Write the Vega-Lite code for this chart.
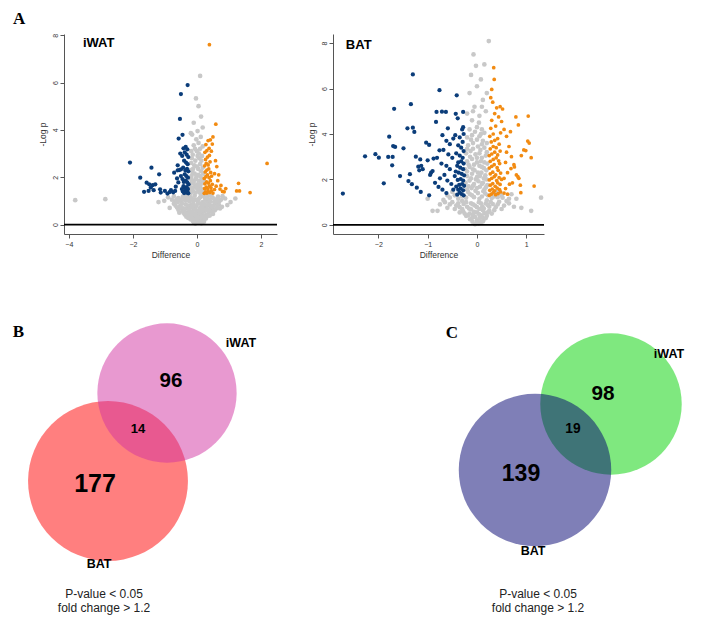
{
"$schema":"https://vega.github.io/schema/vega-lite/v6.json",
"background":"white",
"padding":{"left":12,"top":10,"right":5,"bottom":5},
"bounds":"flush",
"align":"each",
"columns":2,
"spacing":{"row":67,"column":56},
"resolve":{"scale":{"color":"independent","size":"independent"}},
"config":{
 "view":{"stroke":null},
 "axis":{"grid":false,"domainColor":"#555","domainWidth":1,"tickColor":"#555","tickSize":4,"labelColor":"#333","titleColor":"#333","labelFont":"Liberation Sans","titleFont":"Liberation Sans","labelFontSize":7,"titleFontSize":8.5,"titleFontWeight":"normal","labelPadding":2},
 "axisY":{"labelAngle":-90,"titlePadding":4},
 "axisX":{"titlePadding":3}
},
"datasets":{
"iwat":[
{"x":-0.05,"y":0.04,"g":"ns"},{"x":0.03,"y":0.08,"g":"ns"},{"x":0.1,"y":0.12,"g":"ns"},{"x":-0.12,"y":0.15,"g":"ns"},{"x":0.18,"y":0.2,"g":"ns"},{"x":-0.2,"y":0.22,"g":"ns"},{"x":0,"y":0.18,"g":"ns"},{"x":0.07,"y":0.28,"g":"ns"},{"x":-0.08,"y":0.3,"g":"ns"},{"x":0.25,"y":0.3,"g":"ns"},{"x":-0.27,"y":0.28,"g":"ns"},{"x":0.14,"y":0.05,"g":"ns"},
{"x":-0.38,"y":0.42,"g":"ns"},{"x":-0.3,"y":0.5,"g":"ns"},{"x":-0.22,"y":0.38,"g":"ns"},{"x":-0.15,"y":0.52,"g":"ns"},{"x":-0.06,"y":0.45,"g":"ns"},{"x":0.02,"y":0.55,"g":"ns"},{"x":0.09,"y":0.4,"g":"ns"},{"x":0.16,"y":0.48,"g":"ns"},{"x":0.23,"y":0.55,"g":"ns"},{"x":0.3,"y":0.42,"g":"ns"},{"x":0.37,"y":0.5,"g":"ns"},{"x":0.44,"y":0.58,"g":"ns"},{"x":-0.45,"y":0.58,"g":"ns"},{"x":0,"y":0.35,"g":"ns"},{"x":0.12,"y":0.6,"g":"ns"},{"x":-0.1,"y":0.62,"g":"ns"},{"x":0.5,"y":0.45,"g":"ns"},{"x":-0.55,"y":0.5,"g":"ns"},
{"x":-0.62,"y":0.72,"g":"ns"},{"x":-0.52,"y":0.8,"g":"ns"},{"x":-0.43,"y":0.68,"g":"ns"},{"x":-0.35,"y":0.85,"g":"ns"},{"x":-0.26,"y":0.7,"g":"ns"},{"x":-0.18,"y":0.82,"g":"ns"},{"x":-0.08,"y":0.75,"g":"ns"},{"x":0.02,"y":0.88,"g":"ns"},{"x":0.1,"y":0.7,"g":"ns"},{"x":0.19,"y":0.83,"g":"ns"},{"x":0.27,"y":0.72,"g":"ns"},{"x":0.35,"y":0.86,"g":"ns"},{"x":0.43,"y":0.7,"g":"ns"},{"x":0.52,"y":0.8,"g":"ns"},{"x":0.6,"y":0.68,"g":"ns"},{"x":0.68,"y":0.85,"g":"ns"},{"x":-0.72,"y":0.88,"g":"ns"},{"x":0.78,"y":0.75,"g":"ns"},{"x":-0.85,"y":0.7,"g":"ns"},{"x":0.95,"y":0.82,"g":"ns"},{"x":-0.05,"y":0.65,"g":"ns"},{"x":0.3,"y":0.62,"g":"ns"},
{"x":-0.78,"y":1.05,"g":"ns"},{"x":-0.68,"y":0.98,"g":"ns"},{"x":-0.58,"y":1.12,"g":"ns"},{"x":-0.48,"y":0.95,"g":"ns"},{"x":-0.4,"y":1.08,"g":"ns"},{"x":-0.32,"y":1.2,"g":"ns"},{"x":-0.24,"y":0.98,"g":"ns"},{"x":-0.16,"y":1.1,"g":"ns"},{"x":-0.07,"y":1.22,"g":"ns"},{"x":0.02,"y":1,"g":"ns"},{"x":0.1,"y":1.15,"g":"ns"},{"x":0.18,"y":0.95,"g":"ns"},{"x":0.26,"y":1.08,"g":"ns"},{"x":0.34,"y":1.2,"g":"ns"},{"x":0.42,"y":0.98,"g":"ns"},{"x":0.5,"y":1.12,"g":"ns"},{"x":0.58,"y":1,"g":"ns"},{"x":0.66,"y":1.18,"g":"ns"},{"x":0.75,"y":1.05,"g":"ns"},{"x":-0.9,"y":1.15,"g":"ns"},{"x":-1.02,"y":1,"g":"ns"},{"x":0.88,"y":1.1,"g":"ns"},{"x":1.05,"y":0.95,"g":"ns"},{"x":-3.8,"y":1.03,"g":"ns"},{"x":-2.86,"y":1.07,"g":"ns"},{"x":-1.2,"y":0.95,"g":"ns"},{"x":1.2,"y":1.1,"g":"ns"},
{"x":-0.2,"y":1.3,"g":"ns"},{"x":-0.12,"y":1.4,"g":"ns"},{"x":-0.04,"y":1.35,"g":"ns"},{"x":0.05,"y":1.45,"g":"ns"},{"x":0.13,"y":1.32,"g":"ns"},{"x":0.2,"y":1.5,"g":"ns"},{"x":-0.18,"y":1.55,"g":"ns"},{"x":-0.08,"y":1.62,"g":"ns"},{"x":0.02,"y":1.7,"g":"ns"},{"x":0.1,"y":1.6,"g":"ns"},{"x":0.17,"y":1.75,"g":"ns"},{"x":-0.15,"y":1.8,"g":"ns"},{"x":-0.05,"y":1.9,"g":"ns"},{"x":0.06,"y":1.85,"g":"ns"},{"x":0.15,"y":1.95,"g":"ns"},{"x":-0.22,"y":1.7,"g":"ns"},{"x":0.22,"y":1.3,"g":"ns"},{"x":-0.24,"y":1.45,"g":"ns"},
{"x":-0.17,"y":2.05,"g":"ns"},{"x":-0.07,"y":2.15,"g":"ns"},{"x":0.04,"y":2.1,"g":"ns"},{"x":0.13,"y":2.25,"g":"ns"},{"x":-0.12,"y":2.35,"g":"ns"},{"x":0,"y":2.45,"g":"ns"},{"x":0.1,"y":2.55,"g":"ns"},{"x":-0.18,"y":2.6,"g":"ns"},{"x":-0.05,"y":2.7,"g":"ns"},{"x":0.07,"y":2.8,"g":"ns"},{"x":0.16,"y":2.9,"g":"ns"},{"x":-0.13,"y":2.95,"g":"ns"},{"x":0,"y":3.1,"g":"ns"},{"x":0.1,"y":3.2,"g":"ns"},{"x":-0.1,"y":3.35,"g":"ns"},{"x":0.05,"y":3.45,"g":"ns"},{"x":-0.02,"y":3.6,"g":"ns"},{"x":0.12,"y":3.7,"g":"ns"},{"x":-0.15,"y":3.8,"g":"ns"},{"x":-0.19,"y":3.86,"g":"ns"},{"x":0.02,"y":3.95,"g":"ns"},
{"x":-0.1,"y":4.3,"g":"ns"},{"x":0.18,"y":4.1,"g":"ns"},{"x":0.13,"y":4.56,"g":"ns"},{"x":0.05,"y":5,"g":"ns"},{"x":-0.03,"y":5.33,"g":"ns"},{"x":0.1,"y":6.28,"g":"ns"},
{"x":-0.33,"y":0.33,"g":"ns"},{"x":0.33,"y":0.36,"g":"ns"},{"x":-0.5,"y":0.7,"g":"ns"},{"x":0.48,"y":0.65,"g":"ns"},{"x":-0.2,"y":0.55,"g":"ns"},{"x":0.2,"y":0.68,"g":"ns"},{"x":-0.6,"y":0.95,"g":"ns"},{"x":0.6,"y":0.9,"g":"ns"},{"x":-0.12,"y":0.88,"g":"ns"},{"x":0.08,"y":0.9,"g":"ns"},{"x":-0.28,"y":1.1,"g":"ns"},{"x":0.3,"y":1,"g":"ns"},{"x":-0.02,"y":0.48,"g":"ns"},{"x":0.05,"y":0.22,"g":"ns"},{"x":-0.16,"y":0.3,"g":"ns"},{"x":0.22,"y":0.12,"g":"ns"},
{"x":-0.1,"y":0.1,"g":"ns"},{"x":0.05,"y":0.15,"g":"ns"},{"x":-0.18,"y":0.35,"g":"ns"},{"x":0.12,"y":0.3,"g":"ns"},{"x":0.2,"y":0.38,"g":"ns"},{"x":-0.25,"y":0.45,"g":"ns"},{"x":0.28,"y":0.25,"g":"ns"},{"x":-0.02,"y":0.25,"g":"ns"},{"x":0.08,"y":0.5,"g":"ns"},{"x":-0.12,"y":0.42,"g":"ns"},{"x":0.17,"y":0.33,"g":"ns"},{"x":-0.3,"y":0.36,"g":"ns"},{"x":0.4,"y":0.38,"g":"ns"},{"x":-0.42,"y":0.5,"g":"ns"},
{"x":-0.4,"y":0.6,"g":"ns"},{"x":-0.32,"y":0.68,"g":"ns"},{"x":-0.24,"y":0.62,"g":"ns"},{"x":-0.16,"y":0.72,"g":"ns"},{"x":-0.02,"y":0.78,"g":"ns"},{"x":0.06,"y":0.6,"g":"ns"},{"x":0.14,"y":0.77,"g":"ns"},{"x":0.24,"y":0.64,"g":"ns"},{"x":0.32,"y":0.78,"g":"ns"},{"x":0.4,"y":0.62,"g":"ns"},{"x":0.47,"y":0.75,"g":"ns"},{"x":0.56,"y":0.6,"g":"ns"},{"x":-0.58,"y":0.62,"g":"ns"},{"x":-0.47,"y":0.88,"g":"ns"},{"x":-0.28,"y":0.8,"g":"ns"},{"x":0.22,"y":0.88,"g":"ns"},{"x":0.4,"y":0.85,"g":"ns"},{"x":-0.67,"y":0.8,"g":"ns"},{"x":0.64,"y":0.78,"g":"ns"},{"x":0.72,"y":0.68,"g":"ns"},
{"x":-0.52,"y":1.05,"g":"ns"},{"x":-0.44,"y":1.18,"g":"ns"},{"x":-0.36,"y":1.02,"g":"ns"},{"x":-0.2,"y":1.15,"g":"ns"},{"x":-0.12,"y":1.02,"g":"ns"},{"x":0.06,"y":1.08,"g":"ns"},{"x":0.14,"y":1.22,"g":"ns"},{"x":0.22,"y":1.18,"g":"ns"},{"x":0.3,"y":1.12,"g":"ns"},{"x":0.38,"y":1.05,"g":"ns"},{"x":0.46,"y":1.2,"g":"ns"},{"x":0.54,"y":0.95,"g":"ns"},{"x":0.62,"y":1.08,"g":"ns"},{"x":-0.64,"y":1.05,"g":"ns"},{"x":0.7,"y":0.98,"g":"ns"},{"x":-0.72,"y":1.2,"g":"ns"},{"x":0.8,"y":1.2,"g":"ns"},{"x":-0.04,"y":1.05,"g":"ns"},{"x":-0.28,"y":1.25,"g":"ns"},{"x":0.25,"y":1.25,"g":"ns"},
{"x":-0.14,"y":1.5,"g":"ns"},{"x":-0.02,"y":1.55,"g":"ns"},{"x":0.08,"y":1.35,"g":"ns"},{"x":0.16,"y":1.45,"g":"ns"},{"x":-0.1,"y":1.75,"g":"ns"},{"x":0,"y":1.6,"g":"ns"},{"x":0.12,"y":1.72,"g":"ns"},{"x":-0.18,"y":1.92,"g":"ns"},{"x":0.2,"y":1.85,"g":"ns"},{"x":-0.02,"y":2,"g":"ns"},{"x":0.1,"y":2.05,"g":"ns"},{"x":-0.14,"y":2.2,"g":"ns"},{"x":0.18,"y":2.4,"g":"ns"},{"x":-0.08,"y":2.5,"g":"ns"},{"x":0.04,"y":2.35,"g":"ns"},{"x":0.14,"y":2.7,"g":"ns"},{"x":-0.16,"y":2.8,"g":"ns"},{"x":0.02,"y":2.9,"g":"ns"},{"x":-0.06,"y":3.2,"g":"ns"},{"x":0.18,"y":3.3,"g":"ns"},{"x":0.06,"y":3,"g":"ns"},{"x":-0.18,"y":3.1,"g":"ns"},{"x":0.2,"y":2.15,"g":"ns"},{"x":-0.21,"y":2.3,"g":"ns"},
{"x":-0.27,"y":1.32,"g":"dn"},{"x":-0.3,"y":1.38,"g":"dn"},{"x":-0.33,"y":1.35,"g":"dn"},{"x":-0.36,"y":1.42,"g":"dn"},{"x":-0.4,"y":1.33,"g":"dn"},{"x":-0.44,"y":1.4,"g":"dn"},{"x":-0.28,"y":1.5,"g":"dn"},{"x":-0.32,"y":1.58,"g":"dn"},{"x":-0.38,"y":1.55,"g":"dn"},{"x":-0.42,"y":1.62,"g":"dn"},{"x":-0.47,"y":1.5,"g":"dn"},{"x":-0.26,"y":1.7,"g":"dn"},{"x":-0.3,"y":1.78,"g":"dn"},{"x":-0.35,"y":1.85,"g":"dn"},{"x":-0.41,"y":1.8,"g":"dn"},{"x":-0.45,"y":1.92,"g":"dn"},{"x":-0.28,"y":1.98,"g":"dn"},{"x":-0.33,"y":2.05,"g":"dn"},{"x":-0.38,"y":2.12,"g":"dn"},{"x":-0.5,"y":2.05,"g":"dn"},{"x":-0.27,"y":2.25,"g":"dn"},{"x":-0.31,"y":2.35,"g":"dn"},{"x":-0.36,"y":2.28,"g":"dn"},{"x":-0.43,"y":2.4,"g":"dn"},{"x":-0.55,"y":2.3,"g":"dn"},{"x":-0.29,"y":2.55,"g":"dn"},{"x":-0.34,"y":2.62,"g":"dn"},{"x":-0.4,"y":2.7,"g":"dn"},{"x":-0.6,"y":2.5,"g":"dn"},{"x":-0.27,"y":2.85,"g":"dn"},{"x":-0.32,"y":2.95,"g":"dn"},{"x":-0.38,"y":3.05,"g":"dn"},{"x":-0.46,"y":2.9,"g":"dn"},{"x":-0.3,"y":3.18,"g":"dn"},{"x":-0.35,"y":3.28,"g":"dn"},{"x":-0.42,"y":3.22,"g":"dn"},{"x":-0.52,"y":3,"g":"dn"},{"x":-0.71,"y":2.19,"g":"dn"},{"x":-0.6,"y":2.29,"g":"dn"},{"x":-0.5,"y":2.33,"g":"dn"},
{"x":-0.57,"y":3.63,"g":"dn"},{"x":-0.45,"y":3.79,"g":"dn"},{"x":-0.53,"y":4.46,"g":"dn"},{"x":-0.5,"y":5.51,"g":"dn"},{"x":-0.29,"y":5.89,"g":"dn"},{"x":-2.09,"y":2.62,"g":"dn"},{"x":-1.42,"y":2.4,"g":"dn"},{"x":-1.18,"y":2.12,"g":"dn"},{"x":-1.77,"y":1.98,"g":"dn"},{"x":-1.57,"y":1.77,"g":"dn"},{"x":-1.49,"y":1.7,"g":"dn"},{"x":-1.38,"y":1.66,"g":"dn"},{"x":-1.3,"y":1.7,"g":"dn"},{"x":-1.44,"y":1.56,"g":"dn"},{"x":-1.65,"y":1.38,"g":"dn"},{"x":-1.51,"y":1.42,"g":"dn"},{"x":-1.35,"y":1.45,"g":"dn"},{"x":-1.15,"y":1.49,"g":"dn"},{"x":-1.13,"y":1.35,"g":"dn"},{"x":-1,"y":1.42,"g":"dn"},{"x":-0.92,"y":1.31,"g":"dn"},{"x":-0.85,"y":1.37,"g":"dn"},{"x":-0.81,"y":1.45,"g":"dn"},{"x":-0.74,"y":1.36,"g":"dn"},{"x":-0.68,"y":1.42,"g":"dn"},{"x":-0.62,"y":1.95,"g":"dn"},{"x":-0.58,"y":1.78,"g":"dn"},{"x":-0.66,"y":1.6,"g":"dn"},
{"x":0.23,"y":1.32,"g":"up"},{"x":0.27,"y":1.38,"g":"up"},{"x":0.31,"y":1.33,"g":"up"},{"x":0.35,"y":1.4,"g":"up"},{"x":0.4,"y":1.35,"g":"up"},{"x":0.45,"y":1.42,"g":"up"},{"x":0.5,"y":1.33,"g":"up"},{"x":0.24,"y":1.52,"g":"up"},{"x":0.29,"y":1.58,"g":"up"},{"x":0.34,"y":1.5,"g":"up"},{"x":0.39,"y":1.62,"g":"up"},{"x":0.44,"y":1.55,"g":"up"},{"x":0.55,"y":1.48,"g":"up"},{"x":0.25,"y":1.72,"g":"up"},{"x":0.3,"y":1.8,"g":"up"},{"x":0.36,"y":1.75,"g":"up"},{"x":0.42,"y":1.85,"g":"up"},{"x":0.48,"y":1.7,"g":"up"},{"x":0.6,"y":1.62,"g":"up"},{"x":0.23,"y":1.95,"g":"up"},{"x":0.28,"y":2.02,"g":"up"},{"x":0.33,"y":2.1,"g":"up"},{"x":0.38,"y":1.98,"g":"up"},{"x":0.46,"y":2.05,"g":"up"},{"x":0.26,"y":2.22,"g":"up"},{"x":0.31,"y":2.3,"g":"up"},{"x":0.37,"y":2.35,"g":"up"},{"x":0.43,"y":2.2,"g":"up"},{"x":0.55,"y":2.15,"g":"up"},{"x":0.24,"y":2.48,"g":"up"},{"x":0.29,"y":2.58,"g":"up"},{"x":0.35,"y":2.52,"g":"up"},{"x":0.41,"y":2.65,"g":"up"},{"x":0.27,"y":2.75,"g":"up"},{"x":0.33,"y":2.85,"g":"up"},{"x":0.39,"y":2.92,"g":"up"},{"x":0.25,"y":3.05,"g":"up"},{"x":0.31,"y":3.12,"g":"up"},{"x":0.38,"y":3.22,"g":"up"},{"x":0.45,"y":3.1,"g":"up"},{"x":0.28,"y":3.38,"g":"up"},{"x":0.35,"y":3.55,"g":"up"},{"x":0.42,"y":3.58,"g":"up"},{"x":0.48,"y":3.4,"g":"up"},
{"x":0.65,"y":1.85,"g":"up"},{"x":0.72,"y":1.5,"g":"up"},{"x":0.8,"y":1.4,"g":"up"},{"x":0.68,"y":2.1,"g":"up"},{"x":0.62,"y":2.45,"g":"up"},{"x":0.75,"y":1.65,"g":"up"},{"x":0.85,"y":1.38,"g":"up"},{"x":0.9,"y":1.52,"g":"up"},{"x":0.58,"y":2.7,"g":"up"},{"x":1.3,"y":1.74,"g":"up"},{"x":1.24,"y":1.42,"g":"up"},{"x":1.33,"y":1.42,"g":"up"},{"x":1.66,"y":1.35,"g":"up"},{"x":2.19,"y":2.58,"g":"up"},{"x":0.59,"y":4.24,"g":"up"},{"x":0.39,"y":7.6,"g":"up"},{"x":0.5,"y":3.7,"g":"up"}
],
"bat":[
{"x":-0.04,"y":0.03,"g":"ns"},{"x":0.03,"y":0.06,"g":"ns"},{"x":0.08,"y":0.12,"g":"ns"},{"x":-0.09,"y":0.14,"g":"ns"},{"x":0,"y":0.2,"g":"ns"},{"x":0.13,"y":0.22,"g":"ns"},{"x":-0.14,"y":0.25,"g":"ns"},{"x":0.05,"y":0.3,"g":"ns"},{"x":-0.04,"y":0.35,"g":"ns"},
{"x":-0.22,"y":0.4,"g":"ns"},{"x":-0.15,"y":0.5,"g":"ns"},{"x":-0.08,"y":0.45,"g":"ns"},{"x":0,"y":0.55,"g":"ns"},{"x":0.08,"y":0.42,"g":"ns"},{"x":0.15,"y":0.52,"g":"ns"},{"x":0.2,"y":0.4,"g":"ns"},{"x":-0.28,"y":0.6,"g":"ns"},{"x":0.25,"y":0.62,"g":"ns"},{"x":-0.12,"y":0.68,"g":"ns"},{"x":0.05,"y":0.7,"g":"ns"},{"x":-0.35,"y":0.55,"g":"ns"},{"x":0.3,"y":0.5,"g":"ns"},{"x":0.12,"y":0.65,"g":"ns"},
{"x":-0.42,"y":0.85,"g":"ns"},{"x":-0.35,"y":0.78,"g":"ns"},{"x":-0.27,"y":0.92,"g":"ns"},{"x":-0.2,"y":0.8,"g":"ns"},{"x":-0.12,"y":0.95,"g":"ns"},{"x":-0.04,"y":0.85,"g":"ns"},{"x":0.04,"y":1,"g":"ns"},{"x":0.11,"y":0.82,"g":"ns"},{"x":0.18,"y":0.95,"g":"ns"},{"x":0.25,"y":0.8,"g":"ns"},{"x":0.32,"y":0.92,"g":"ns"},{"x":0.38,"y":0.78,"g":"ns"},{"x":-0.5,"y":1,"g":"ns"},{"x":0.45,"y":1.02,"g":"ns"},{"x":-0.6,"y":0.75,"g":"ns"},{"x":0.55,"y":0.85,"g":"ns"},{"x":-0.75,"y":0.9,"g":"ns"},{"x":0.65,"y":0.95,"g":"ns"},{"x":-0.9,"y":0.62,"g":"ns"},{"x":1.1,"y":0.62,"g":"ns"},{"x":-0.8,"y":0.62,"g":"ns"},{"x":0.9,"y":0.75,"g":"ns"},{"x":-0.3,"y":1.05,"g":"ns"},{"x":0.2,"y":1.08,"g":"ns"},
{"x":-0.55,"y":1.2,"g":"ns"},{"x":-0.45,"y":1.3,"g":"ns"},{"x":-0.38,"y":1.15,"g":"ns"},{"x":-0.22,"y":1.2,"g":"ns"},{"x":-0.14,"y":1.35,"g":"ns"},{"x":-0.06,"y":1.22,"g":"ns"},{"x":0.02,"y":1.4,"g":"ns"},{"x":0.1,"y":1.25,"g":"ns"},{"x":0.17,"y":1.38,"g":"ns"},{"x":0.3,"y":1.18,"g":"ns"},{"x":0.42,"y":1.22,"g":"ns"},{"x":0.52,"y":1.2,"g":"ns"},{"x":0.65,"y":1.15,"g":"ns"},{"x":1.3,"y":1.2,"g":"ns"},{"x":-0.68,"y":1.1,"g":"ns"},{"x":-1,"y":1.15,"g":"ns"},{"x":0.8,"y":1.15,"g":"ns"},
{"x":-0.2,"y":1.55,"g":"ns"},{"x":-0.11,"y":1.62,"g":"ns"},{"x":-0.03,"y":1.5,"g":"ns"},{"x":0.06,"y":1.68,"g":"ns"},{"x":0.15,"y":1.55,"g":"ns"},{"x":0.21,"y":1.75,"g":"ns"},{"x":-0.23,"y":1.85,"g":"ns"},{"x":-0.15,"y":1.95,"g":"ns"},{"x":-0.06,"y":1.8,"g":"ns"},{"x":0.03,"y":1.92,"g":"ns"},{"x":0.12,"y":1.85,"g":"ns"},{"x":0.19,"y":2,"g":"ns"},{"x":-0.2,"y":2.15,"g":"ns"},{"x":-0.1,"y":2.25,"g":"ns"},{"x":0,"y":2.1,"g":"ns"},{"x":0.09,"y":2.3,"g":"ns"},{"x":0.17,"y":2.18,"g":"ns"},{"x":-0.24,"y":2.45,"g":"ns"},{"x":-0.15,"y":2.55,"g":"ns"},{"x":-0.05,"y":2.4,"g":"ns"},{"x":0.05,"y":2.6,"g":"ns"},{"x":0.14,"y":2.5,"g":"ns"},{"x":0.21,"y":2.7,"g":"ns"},{"x":-0.2,"y":2.8,"g":"ns"},{"x":-0.1,"y":2.9,"g":"ns"},{"x":0,"y":2.75,"g":"ns"},{"x":0.1,"y":2.95,"g":"ns"},{"x":0.18,"y":3.05,"g":"ns"},{"x":-0.22,"y":3.15,"g":"ns"},{"x":-0.13,"y":3.25,"g":"ns"},{"x":-0.03,"y":3.1,"g":"ns"},{"x":0.07,"y":3.3,"g":"ns"},{"x":0.15,"y":3.4,"g":"ns"},{"x":-0.18,"y":3.5,"g":"ns"},{"x":-0.08,"y":3.6,"g":"ns"},{"x":0.02,"y":3.45,"g":"ns"},{"x":0.12,"y":3.7,"g":"ns"},{"x":-0.2,"y":3.85,"g":"ns"},{"x":-0.1,"y":3.95,"g":"ns"},{"x":0.05,"y":3.9,"g":"ns"},{"x":0.15,"y":4.05,"g":"ns"},{"x":-0.15,"y":4.2,"g":"ns"},{"x":0,"y":4.3,"g":"ns"},{"x":0.1,"y":4.2,"g":"ns"},
{"x":-0.1,"y":4.6,"g":"ns"},{"x":0.05,"y":4.8,"g":"ns"},{"x":0.18,"y":5,"g":"ns"},{"x":-0.05,"y":5.2,"g":"ns"},{"x":0.12,"y":5.5,"g":"ns"},{"x":-0.15,"y":5.8,"g":"ns"},{"x":0,"y":6.1,"g":"ns"},{"x":-0.12,"y":6.6,"g":"ns"},{"x":0.08,"y":6.4,"g":"ns"},{"x":-0.02,"y":7,"g":"ns"},{"x":-0.07,"y":7.5,"g":"ns"},{"x":0.15,"y":7.06,"g":"ns"},{"x":0.24,"y":8.09,"g":"ns"},{"x":0.2,"y":5.8,"g":"ns"},{"x":-0.2,"y":4.9,"g":"ns"},
{"x":-0.1,"y":0.3,"g":"ns"},{"x":0.1,"y":0.35,"g":"ns"},{"x":-0.18,"y":0.42,"g":"ns"},{"x":0.18,"y":0.3,"g":"ns"},{"x":0.04,"y":0.48,"g":"ns"},{"x":-0.06,"y":0.58,"g":"ns"},{"x":0.22,"y":0.55,"g":"ns"},{"x":-0.25,"y":0.5,"g":"ns"},{"x":0,"y":0.1,"g":"ns"},{"x":0.12,"y":0.15,"g":"ns"},
{"x":-0.45,"y":0.7,"g":"ns"},{"x":-0.38,"y":0.95,"g":"ns"},{"x":-0.3,"y":0.7,"g":"ns"},{"x":-0.22,"y":1,"g":"ns"},{"x":-0.16,"y":0.72,"g":"ns"},{"x":-0.08,"y":0.9,"g":"ns"},{"x":0,"y":0.78,"g":"ns"},{"x":0.08,"y":0.95,"g":"ns"},{"x":0.14,"y":0.72,"g":"ns"},{"x":0.22,"y":0.88,"g":"ns"},{"x":0.28,"y":1,"g":"ns"},{"x":0.35,"y":0.65,"g":"ns"},{"x":0.42,"y":0.9,"g":"ns"},{"x":0.5,"y":0.7,"g":"ns"},{"x":-0.55,"y":0.9,"g":"ns"},{"x":0.6,"y":1.05,"g":"ns"},{"x":-0.65,"y":1,"g":"ns"},{"x":0.75,"y":0.8,"g":"ns"},
{"x":-0.3,"y":1.25,"g":"ns"},{"x":-0.18,"y":1.45,"g":"ns"},{"x":-0.1,"y":1.3,"g":"ns"},{"x":0.05,"y":1.15,"g":"ns"},{"x":0.13,"y":1.48,"g":"ns"},{"x":0.22,"y":1.3,"g":"ns"},{"x":-0.5,"y":1.45,"g":"ns"},{"x":0.4,"y":1.45,"g":"ns"},{"x":0.5,"y":1.3,"g":"ns"},{"x":0.7,"y":1.35,"g":"ns"},{"x":-0.6,"y":1.3,"g":"ns"},{"x":0.35,"y":1.25,"g":"ns"},
{"x":-0.17,"y":1.7,"g":"ns"},{"x":-0.08,"y":1.72,"g":"ns"},{"x":0,"y":1.62,"g":"ns"},{"x":0.1,"y":1.8,"g":"ns"},{"x":0.18,"y":1.65,"g":"ns"},{"x":-0.12,"y":2.05,"g":"ns"},{"x":-0.02,"y":2,"g":"ns"},{"x":0.06,"y":2.15,"g":"ns"},{"x":0.14,"y":2.05,"g":"ns"},{"x":-0.2,"y":2.35,"g":"ns"},{"x":-0.08,"y":2.45,"g":"ns"},{"x":0.02,"y":2.3,"g":"ns"},{"x":0.1,"y":2.55,"g":"ns"},{"x":0.19,"y":2.4,"g":"ns"},{"x":-0.17,"y":2.65,"g":"ns"},{"x":-0.06,"y":2.65,"g":"ns"},{"x":0.08,"y":2.8,"g":"ns"},{"x":0.15,"y":2.75,"g":"ns"},{"x":-0.14,"y":3,"g":"ns"},{"x":0,"y":2.95,"g":"ns"},{"x":0.05,"y":3.15,"g":"ns"},{"x":0.2,"y":3.2,"g":"ns"},{"x":-0.08,"y":3.35,"g":"ns"},{"x":-0.2,"y":3.35,"g":"ns"},{"x":0.1,"y":3.55,"g":"ns"},{"x":-0.12,"y":3.75,"g":"ns"},{"x":0,"y":3.75,"g":"ns"},{"x":0.08,"y":4,"g":"ns"},{"x":-0.04,"y":4.1,"g":"ns"},{"x":0.2,"y":3.6,"g":"ns"},{"x":0.04,"y":4.5,"g":"ns"},{"x":-0.08,"y":5,"g":"ns"},{"x":0.1,"y":5.2,"g":"ns"},
{"x":-1.3,"y":6.62,"g":"dn"},{"x":-0.76,"y":5.93,"g":"dn"},{"x":-1.34,"y":5.31,"g":"dn"},{"x":-1.68,"y":5.11,"g":"dn"},{"x":-0.41,"y":5.7,"g":"dn"},{"x":-0.82,"y":4.97,"g":"dn"},{"x":-0.71,"y":4.98,"g":"dn"},{"x":-0.63,"y":4.97,"g":"dn"},{"x":-0.43,"y":4.89,"g":"dn"},{"x":-0.28,"y":4.97,"g":"dn"},{"x":-0.39,"y":4.69,"g":"dn"},{"x":-0.83,"y":4.53,"g":"dn"},{"x":-1.41,"y":4.25,"g":"dn"},{"x":-1.3,"y":4.28,"g":"dn"},{"x":-1.27,"y":4.09,"g":"dn"},{"x":-0.59,"y":4.25,"g":"dn"},{"x":-0.28,"y":4.3,"g":"dn"},{"x":-1.78,"y":3.88,"g":"dn"},{"x":-1.7,"y":3.47,"g":"dn"},{"x":-1.66,"y":3.43,"g":"dn"},{"x":-1.49,"y":3.37,"g":"dn"},{"x":-1.03,"y":3.62,"g":"dn"},{"x":-0.97,"y":3.52,"g":"dn"},{"x":-0.76,"y":3.28,"g":"dn"},{"x":-2.27,"y":3.02,"g":"dn"},{"x":-2.06,"y":3.11,"g":"dn"},{"x":-1.99,"y":2.96,"g":"dn"},{"x":-1.8,"y":2.99,"g":"dn"},{"x":-1.71,"y":2.99,"g":"dn"},{"x":-1.72,"y":2.62,"g":"dn"},{"x":-1.24,"y":3,"g":"dn"},{"x":-1.15,"y":2.88,"g":"dn"},{"x":-1,"y":2.84,"g":"dn"},{"x":-0.88,"y":2.92,"g":"dn"},{"x":-0.81,"y":2.95,"g":"dn"},{"x":-1.19,"y":2.56,"g":"dn"},{"x":-1.13,"y":2.6,"g":"dn"},{"x":-1.1,"y":2.45,"g":"dn"},{"x":-1.17,"y":2.4,"g":"dn"},{"x":-0.93,"y":2.3,"g":"dn"},{"x":-0.95,"y":2.2,"g":"dn"},{"x":-0.9,"y":2.37,"g":"dn"},{"x":-1.56,"y":2.15,"g":"dn"},{"x":-1.36,"y":2.23,"g":"dn"},{"x":-1.39,"y":1.93,"g":"dn"},{"x":-1.32,"y":1.79,"g":"dn"},{"x":-1.22,"y":1.64,"g":"dn"},{"x":-1.14,"y":1.45,"g":"dn"},{"x":-1.89,"y":1.83,"g":"dn"},{"x":-2.72,"y":1.38,"g":"dn"},{"x":-0.97,"y":1.3,"g":"dn"},{"x":-0.78,"y":1.67,"g":"dn"},
{"x":-0.7,"y":3.95,"g":"dn"},{"x":-0.62,"y":3.7,"g":"dn"},{"x":-0.55,"y":3.55,"g":"dn"},{"x":-0.48,"y":3.8,"g":"dn"},{"x":-0.68,"y":3.3,"g":"dn"},{"x":-0.58,"y":3.1,"g":"dn"},{"x":-0.5,"y":2.95,"g":"dn"},{"x":-0.72,"y":2.7,"g":"dn"},{"x":-0.62,"y":2.6,"g":"dn"},{"x":-0.55,"y":2.45,"g":"dn"},{"x":-0.66,"y":2.2,"g":"dn"},{"x":-0.75,"y":2.05,"g":"dn"},{"x":-0.6,"y":1.95,"g":"dn"},{"x":-0.52,"y":1.8,"g":"dn"},{"x":-0.7,"y":1.55,"g":"dn"},{"x":-0.62,"y":1.4,"g":"dn"},{"x":-0.85,"y":1.85,"g":"dn"},{"x":-0.45,"y":2.15,"g":"dn"},{"x":-0.48,"y":1.55,"g":"dn"},
{"x":-0.27,"y":1.3,"g":"dn"},{"x":-0.31,"y":1.36,"g":"dn"},{"x":-0.35,"y":1.42,"g":"dn"},{"x":-0.4,"y":1.33,"g":"dn"},{"x":-0.28,"y":1.52,"g":"dn"},{"x":-0.33,"y":1.6,"g":"dn"},{"x":-0.38,"y":1.55,"g":"dn"},{"x":-0.26,"y":1.72,"g":"dn"},{"x":-0.3,"y":1.8,"g":"dn"},{"x":-0.36,"y":1.76,"g":"dn"},{"x":-0.42,"y":1.68,"g":"dn"},{"x":-0.28,"y":1.95,"g":"dn"},{"x":-0.33,"y":2.02,"g":"dn"},{"x":-0.39,"y":1.98,"g":"dn"},{"x":-0.26,"y":2.18,"g":"dn"},{"x":-0.31,"y":2.25,"g":"dn"},{"x":-0.37,"y":2.3,"g":"dn"},{"x":-0.43,"y":2.35,"g":"dn"},{"x":-0.28,"y":2.45,"g":"dn"},{"x":-0.34,"y":2.52,"g":"dn"},{"x":-0.4,"y":2.6,"g":"dn"},{"x":-0.27,"y":2.7,"g":"dn"},{"x":-0.32,"y":2.8,"g":"dn"},{"x":-0.38,"y":2.75,"g":"dn"},{"x":-0.29,"y":2.95,"g":"dn"},{"x":-0.35,"y":3.05,"g":"dn"},{"x":-0.42,"y":3.15,"g":"dn"},{"x":-0.27,"y":3.25,"g":"dn"},{"x":-0.32,"y":3.4,"g":"dn"},{"x":-0.38,"y":3.5,"g":"dn"},{"x":-0.29,"y":3.65,"g":"dn"},{"x":-0.35,"y":3.85,"g":"dn"},{"x":-0.27,"y":4,"g":"dn"},{"x":-0.44,"y":3.95,"g":"dn"},{"x":-0.3,"y":4.2,"g":"dn"},
{"x":0.25,"y":1.3,"g":"up"},{"x":0.29,"y":1.35,"g":"up"},{"x":0.33,"y":1.42,"g":"up"},{"x":0.38,"y":1.33,"g":"up"},{"x":0.43,"y":1.38,"g":"up"},{"x":0.48,"y":1.45,"g":"up"},{"x":0.26,"y":1.52,"g":"up"},{"x":0.31,"y":1.58,"g":"up"},{"x":0.36,"y":1.5,"g":"up"},{"x":0.41,"y":1.62,"g":"up"},{"x":0.46,"y":1.55,"g":"up"},{"x":0.27,"y":1.75,"g":"up"},{"x":0.32,"y":1.82,"g":"up"},{"x":0.37,"y":1.7,"g":"up"},{"x":0.42,"y":1.85,"g":"up"},{"x":0.47,"y":1.78,"g":"up"},{"x":0.25,"y":1.98,"g":"up"},{"x":0.3,"y":2.05,"g":"up"},{"x":0.35,"y":2.12,"g":"up"},{"x":0.4,"y":1.95,"g":"up"},{"x":0.45,"y":2.08,"g":"up"},{"x":0.5,"y":2,"g":"up"},{"x":0.27,"y":2.25,"g":"up"},{"x":0.32,"y":2.32,"g":"up"},{"x":0.38,"y":2.2,"g":"up"},{"x":0.43,"y":2.4,"g":"up"},{"x":0.48,"y":2.28,"g":"up"},{"x":0.25,"y":2.5,"g":"up"},{"x":0.3,"y":2.58,"g":"up"},{"x":0.35,"y":2.65,"g":"up"},{"x":0.41,"y":2.52,"g":"up"},{"x":0.46,"y":2.7,"g":"up"},{"x":0.27,"y":2.8,"g":"up"},{"x":0.33,"y":2.88,"g":"up"},{"x":0.39,"y":2.95,"g":"up"},{"x":0.44,"y":2.82,"g":"up"},{"x":0.25,"y":3.05,"g":"up"},{"x":0.3,"y":3.12,"g":"up"},{"x":0.36,"y":3.2,"g":"up"},{"x":0.42,"y":3.08,"g":"up"},{"x":0.47,"y":3.25,"g":"up"},{"x":0.27,"y":3.35,"g":"up"},{"x":0.33,"y":3.45,"g":"up"},{"x":0.39,"y":3.4,"g":"up"},{"x":0.45,"y":3.55,"g":"up"},{"x":0.29,"y":3.65,"g":"up"},{"x":0.36,"y":3.72,"g":"up"},{"x":0.42,"y":3.8,"g":"up"},{"x":0.26,"y":3.9,"g":"up"},{"x":0.33,"y":4,"g":"up"},
{"x":0.34,"y":6.92,"g":"up"},{"x":0.35,"y":6.4,"g":"up"},{"x":0.3,"y":5.96,"g":"up"},{"x":0.28,"y":5.6,"g":"up"},{"x":0.32,"y":5.4,"g":"up"},{"x":0.4,"y":5.15,"g":"up"},{"x":0.47,"y":5.2,"g":"up"},{"x":0.52,"y":5.1,"g":"up"},{"x":0.36,"y":4.9,"g":"up"},{"x":0.44,"y":4.75,"g":"up"},{"x":0.3,"y":4.6,"g":"up"},{"x":0.5,"y":4.55,"g":"up"},{"x":0.38,"y":4.35,"g":"up"},{"x":0.55,"y":4.2,"g":"up"},{"x":0.48,"y":4.05,"g":"up"},{"x":0.6,"y":3.9,"g":"up"},{"x":0.28,"y":4.25,"g":"up"},
{"x":0.79,"y":4.75,"g":"up"},{"x":1.04,"y":4.79,"g":"up"},{"x":0.84,"y":4.4,"g":"up"},{"x":1.03,"y":3.69,"g":"up"},{"x":1.06,"y":3.6,"g":"up"},{"x":1.1,"y":2.96,"g":"up"},{"x":0.95,"y":3.3,"g":"up"},{"x":0.99,"y":3.27,"g":"up"},{"x":0.69,"y":2.48,"g":"up"},{"x":0.76,"y":2.55,"g":"up"},{"x":0.6,"y":3.2,"g":"up"},{"x":0.65,"y":3.45,"g":"up"},{"x":0.7,"y":3,"g":"up"},{"x":0.58,"y":2.75,"g":"up"},{"x":0.62,"y":2.3,"g":"up"},{"x":0.8,"y":2.2,"g":"up"},{"x":0.85,"y":2.05,"g":"up"},{"x":0.83,"y":2.12,"g":"up"},{"x":0.55,"y":2.05,"g":"up"},{"x":0.66,"y":1.79,"g":"up"},{"x":0.58,"y":1.6,"g":"up"},{"x":0.72,"y":1.85,"g":"up"},{"x":1.16,"y":1.71,"g":"up"},{"x":0.89,"y":1.42,"g":"up"},{"x":0.88,"y":1.75,"g":"up"},{"x":0.55,"y":1.4,"g":"up"},{"x":0.62,"y":1.35,"g":"up"},{"x":0.75,"y":2.65,"g":"up"},{"x":0.68,"y":4.1,"g":"up"},{"x":0.9,"y":3.05,"g":"up"}
],
"vennB":[
{"kind":"set","label":"BAT","x":44,"y":180,"n":191},
{"kind":"set","label":"iWAT","x":103,"y":92,"n":110},
{"kind":"count","label":"96","x":107,"y":80,"n":96},
{"kind":"count","label":"14","x":74,"y":128,"n":14},
{"kind":"count","label":"177","x":31,"y":183,"n":177},
{"kind":"name","label":"iWAT","x":177,"y":42},
{"kind":"name","label":"BAT","x":35,"y":263},
{"kind":"note","label":"P-value < 0.05","x":40,"y":293},
{"kind":"note","label":"fold change > 1.2","x":40,"y":307},
{"kind":"panel","label":"B","x":-45.5,"y":30.5}
],
"vennC":[
{"kind":"set","label":"iWAT","x":278,"y":103,"n":117},
{"kind":"set","label":"BAT","x":202,"y":169,"n":158},
{"kind":"count","label":"98","x":270,"y":93,"n":98},
{"kind":"count","label":"19","x":240,"y":128,"n":19},
{"kind":"count","label":"139","x":188,"y":173,"n":139},
{"kind":"name","label":"iWAT","x":336,"y":53},
{"kind":"name","label":"BAT","x":200,"y":250},
{"kind":"note","label":"P-value < 0.05","x":205,"y":293},
{"kind":"note","label":"fold change > 1.2","x":205,"y":307},
{"kind":"panel","label":"C","x":119,"y":31.5}
]
},
"concat":[
{
 "width":213,"height":200,
 "layer":[
  {"data":{"name":"iwat"},
   "mark":{"type":"point","filled":true,"opacity":1,"strokeWidth":0},
   "encoding":{
    "x":{"field":"x","type":"quantitative","scale":{"domain":[-4.15,2.5],"nice":false,"zero":false},"axis":{"values":[-4,-2,0,2],"title":"Difference"}},
    "y":{"field":"y","type":"quantitative","scale":{"domain":[-0.4,8.05],"nice":false,"zero":false},"axis":{"values":[0,2,4,6,8],"title":"-Log p"}},
    "color":{"field":"g","type":"nominal","scale":{"domain":["ns","dn","up"],"range":["#c8c8c8","#0b3d7a","#f28b12"]},"legend":null},
    "size":{"field":"g","type":"nominal","scale":{"domain":["ns","dn","up"],"range":[22,14,14]},"legend":null}}},
  {"data":{"values":[{}]},"mark":{"type":"rule","color":"black","strokeWidth":1.8},"encoding":{"y":{"datum":0}}},
  {"data":{"values":[{}]},"mark":{"type":"text","align":"left","baseline":"middle","font":"Liberation Sans","fontWeight":"bold","fontSize":13,"color":"black"},
   "encoding":{"x":{"datum":-3.56},"y":{"datum":7.67},"text":{"value":"iWAT"}}},
  {"data":{"values":[{}]},"mark":{"type":"text","align":"left","baseline":"middle","font":"Liberation Serif","fontWeight":"bold","fontSize":17,"color":"black"},
   "encoding":{"x":{"datum":-5.74},"y":{"datum":8.68},"text":{"value":"A"}}}
 ]
},
{
 "width":211,"height":200,
 "layer":[
  {"data":{"name":"bat"},
   "mark":{"type":"point","filled":true,"opacity":1,"strokeWidth":0},
   "encoding":{
    "x":{"field":"x","type":"quantitative","scale":{"domain":[-2.92,1.36],"nice":false,"zero":false},"axis":{"values":[-2,-1,0,1],"title":"Difference"}},
    "y":{"field":"y","type":"quantitative","scale":{"domain":[-0.4,8.4],"nice":false,"zero":false},"axis":{"values":[0,2,4,6,8],"title":"-Log p"}},
    "color":{"field":"g","type":"nominal","scale":{"domain":["ns","dn","up"],"range":["#c8c8c8","#0b3d7a","#f28b12"]},"legend":null},
    "size":{"field":"g","type":"nominal","scale":{"domain":["ns","dn","up"],"range":[22,14,14]},"legend":null}}},
  {"data":{"values":[{}]},"mark":{"type":"rule","color":"black","strokeWidth":1.8},"encoding":{"y":{"datum":0}}},
  {"data":{"values":[{}]},"mark":{"type":"text","align":"left","baseline":"middle","font":"Liberation Sans","fontWeight":"bold","fontSize":13,"color":"black"},
   "encoding":{"x":{"datum":-2.66},"y":{"datum":7.92},"text":{"value":"BAT"}}}
 ]
},
{
 "width":213,"height":300,
 "data":{"name":"vennB"},
 "encoding":{
  "x":{"field":"x","type":"quantitative","scale":{"domain":[0,213],"nice":false,"zero":false},"axis":null},
  "y":{"field":"y","type":"quantitative","scale":{"domain":[0,300],"nice":false,"zero":false,"reverse":true},"axis":null}
 },
 "layer":[
  {"transform":[{"filter":"datum.kind === 'set'"}],
   "mark":{"type":"point","shape":"circle","filled":true,"opacity":0.5,"strokeWidth":0},
   "encoding":{
    "size":{"field":"n","type":"quantitative","scale":{"type":"sqrt","domain":[0,191],"range":[0,25567]},"legend":null},
    "color":{"field":"label","type":"nominal","scale":{"domain":["BAT","iWAT"],"range":["#ff0000","#d133a1"]},"legend":null}}},
  {"transform":[{"filter":"datum.kind === 'count'"}],
   "mark":{"type":"text","font":"Liberation Sans","fontWeight":"bold","color":"black"},
   "encoding":{"text":{"field":"label"},"size":{"field":"n","type":"quantitative","scale":{"type":"sqrt","domain":[14,177],"range":[13,25],"zero":false},"legend":null}}},
  {"transform":[{"filter":"datum.kind === 'name'"}],
   "mark":{"type":"text","font":"Liberation Sans","fontWeight":"bold","fontSize":12.5,"color":"black"},
   "encoding":{"text":{"field":"label"}}},
  {"transform":[{"filter":"datum.kind === 'note'"}],
   "mark":{"type":"text","font":"Liberation Sans","fontSize":12,"color":"#222"},
   "encoding":{"text":{"field":"label"}}},
  {"transform":[{"filter":"datum.kind === 'panel'"}],
   "mark":{"type":"text","font":"Liberation Serif","fontWeight":"bold","fontSize":17,"color":"black"},
   "encoding":{"text":{"field":"label"}}}
 ],
 "resolve":{"scale":{"size":"independent"}}
},
{
 "width":211,"height":300,
 "data":{"name":"vennC"},
 "encoding":{
  "x":{"field":"x","type":"quantitative","scale":{"domain":[0,211],"nice":false,"zero":false},"axis":null},
  "y":{"field":"y","type":"quantitative","scale":{"domain":[0,300],"nice":false,"zero":false,"reverse":true},"axis":null}
 },
 "layer":[
  {"transform":[{"filter":"datum.kind === 'set'"}],
   "mark":{"type":"point","shape":"circle","filled":true,"opacity":0.5,"strokeWidth":0},
   "encoding":{
    "size":{"field":"n","type":"quantitative","scale":{"type":"sqrt","domain":[0,191],"range":[0,25567]},"legend":null},
    "color":{"field":"label","type":"nominal","scale":{"domain":["BAT","iWAT"],"range":["#000070","#00d200"]},"legend":null}}},
  {"transform":[{"filter":"datum.kind === 'count'"}],
   "mark":{"type":"text","font":"Liberation Sans","fontWeight":"bold","color":"black"},
   "encoding":{"text":{"field":"label"},"size":{"field":"n","type":"quantitative","scale":{"type":"sqrt","domain":[14,177],"range":[13,25],"zero":false},"legend":null}}},
  {"transform":[{"filter":"datum.kind === 'name'"}],
   "mark":{"type":"text","font":"Liberation Sans","fontWeight":"bold","fontSize":12.5,"color":"black"},
   "encoding":{"text":{"field":"label"}}},
  {"transform":[{"filter":"datum.kind === 'note'"}],
   "mark":{"type":"text","font":"Liberation Sans","fontSize":12,"color":"#222"},
   "encoding":{"text":{"field":"label"}}},
  {"transform":[{"filter":"datum.kind === 'panel'"}],
   "mark":{"type":"text","font":"Liberation Serif","fontWeight":"bold","fontSize":17,"color":"black"},
   "encoding":{"text":{"field":"label"}}}
 ],
 "resolve":{"scale":{"size":"independent"}}
}
]
}
